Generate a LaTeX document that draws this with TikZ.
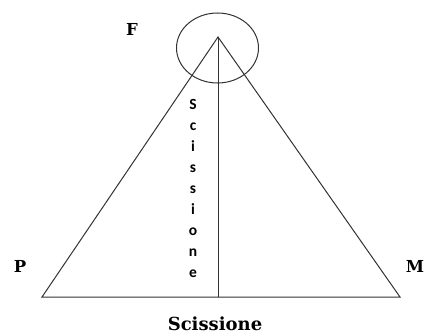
\documentclass[tikz,border=0pt]{standalone}
\usepackage{fontspec}
\setmainfont{DejaVu Serif}
\newfontfamily\cutfont{Carlito}
\usetikzlibrary{positioning,shapes.geometric}

\begin{document}
\begin{tikzpicture}[
    x=1pt, y=-1pt,
    edge/.style={line width=1pt, draw=black!80},
    ring/.style={ellipse, draw=black!80, line width=1pt,
                 minimum width=82pt, minimum height=70pt, inner sep=0pt},
    corner/.style={font=\bfseries\fontsize{16.5}{20}\selectfont, inner sep=0pt},
    cutlabel/.style={font=\cutfont\bfseries\fontsize{15.5}{21}\selectfont,
                     align=center, inner sep=0pt}
]
\useasboundingbox (0,0) rectangle (427,334);

\coordinate (apex) at (218,37);
\coordinate (pleft) at (42,297);
\coordinate (mright) at (400,297);
\coordinate (base) at (218,297);

% triangolo e linea di scissione
\draw[edge] (apex) -- (pleft) -- (mright) -- cycle;
\draw[edge] (apex) -- (base);
\node[ring] (top) at (217.5,48) {};

% etichette
\node[corner] (F) at (132,29) {F};
\node[corner] (P) at (20,266) {P};
\node[corner] (M) at (415,266) {M};
\node[corner, font=\bfseries\fontsize{18}{20}\selectfont] (scis) at (215,324) {Scissione};
\node[cutlabel] (cut) at (193,188) {S\\c\\i\\s\\s\\i\\o\\n\\e};

\end{tikzpicture}
\end{document}
